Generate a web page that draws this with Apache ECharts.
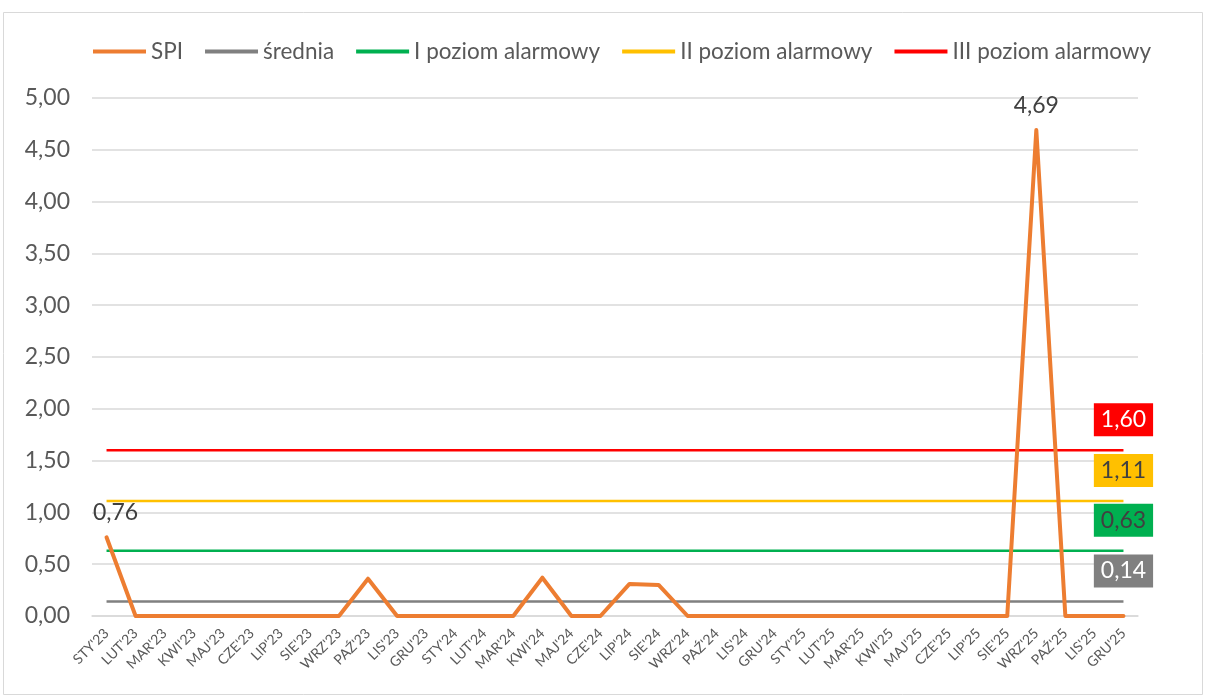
<!DOCTYPE html>
<html>
<head>
<meta charset="utf-8">
<script src="https://cdn.jsdelivr.net/npm/echarts@6/dist/echarts.min.js"></script>
<style>
  html, body { margin: 0; padding: 0; background: #fff; }
  #chart { width: 1206px; height: 698px; }
</style>
</head>
<body>
<div id="chart"></div>
<script>
const categories = [
  "STY'23","LUT'23","MAR'23","KWI'23","MAJ'23","CZE'23","LIP'23","SIE'23","WRZ'23","PAŹ'23","LIS'23","GRU'23",
  "STY'24","LUT'24","MAR'24","KWI'24","MAJ'24","CZE'24","LIP'24","SIE'24","WRZ'24","PAŹ'24","LIS'24","GRU'24",
  "STY'25","LUT'25","MAR'25","KWI'25","MAJ'25","CZE'25","LIP'25","SIE'25","WRZ'25","PAŹ'25","LIS'25","GRU'25"
];
const spiValues = [
  0.76, 0, 0, 0, 0, 0, 0, 0, 0, 0.36, 0, 0,
  0, 0, 0, 0.37, 0, 0, 0.31, 0.30, 0, 0, 0, 0,
  0, 0, 0, 0, 0, 0, 0, 0, 4.69, 0, 0, 0
];
const sredniaValue = 0.14;
const level1Value = 0.63;
const level2Value = 1.11;
const level3Value = 1.60;
const seriesNames = ["SPI", "średnia", "I poziom alarmowy", "II poziom alarmowy", "III poziom alarmowy"];
const yTicks = { min: 0, max: 5, interval: 0.5 };

const FONT = "Lato, 'Liberation Sans', sans-serif";
const TXT = '#595959';
const fmt = v => Number(v).toFixed(2).replace('.', ',');

const maxIdx = spiValues.indexOf(Math.max(...spiValues));
const spiData = spiValues.map((v, i) => (i === 0 || i === maxIdx)
  ? { value: v, label: { show: true, position: 'top', distance: 13, offset: [i === 0 ? 9 : 0, 0],
      formatter: p => fmt(p.value), color: '#404040', fontSize: 23, fontFamily: FONT } }
  : v);

function constLine(name, value, color, textColor) {
  const data = categories.map((c, i) => i === categories.length - 1
    ? { value: value, label: { show: true, position: 'top', distance: 14,
        formatter: p => fmt(p.value), backgroundColor: color, color: textColor,
        fontSize: 23, fontFamily: FONT, padding: [5, 7, 5, 7] } }
    : value);
  return {
    name: name, type: 'line', data: data, symbol: 'circle', symbolSize: 0.01,
    showSymbol: true, z: 2,
    lineStyle: { color: color, width: 2.5 }, itemStyle: { color: color },
    emphasis: { disabled: true }, animation: false
  };
}

const chart = echarts.init(document.getElementById('chart'));
chart.setOption({
  animation: false,
  backgroundColor: '#fff',
  graphic: [{
    type: 'rect', shape: { x: 3.5, y: 12.5, width: 1199, height: 682 },
    style: { fill: 'none', stroke: '#D9D9D9', lineWidth: 1 }, silent: true
  }],
  legend: {
    left: 88, top: 35, itemWidth: 53, itemHeight: 4, itemGap: 22, icon: 'rect',
    textStyle: { color: TXT, fontSize: 22.5, fontFamily: FONT },
    data: seriesNames
  },
  grid: { left: 92, right: 68, top: 98, bottom: 82, containLabel: false },
  xAxis: {
    type: 'category', data: categories, boundaryGap: true,
    axisLine: { show: true, lineStyle: { color: '#D9D9D9', width: 1.5 } },
    axisTick: { show: false },
    axisLabel: { rotate: 45, interval: 0, color: TXT, fontSize: 14, fontFamily: FONT, margin: 15 }
  },
  yAxis: {
    type: 'value', min: yTicks.min, max: yTicks.max, interval: yTicks.interval,
    axisLine: { show: false }, axisTick: { show: false },
    splitLine: { lineStyle: { color: '#D9D9D9', width: 1.5 } },
    axisLabel: { formatter: v => fmt(v), color: TXT, fontSize: 23, fontFamily: FONT, margin: 22 }
  },
  series: [
    {
      name: seriesNames[0], type: 'line', data: spiData, symbol: 'circle', symbolSize: 0.01,
      showSymbol: true, z: 3,
      lineStyle: { color: '#ED7D31', width: 4, cap: 'round', join: 'round' },
      itemStyle: { color: '#ED7D31' }, emphasis: { disabled: true }
    },
    constLine(seriesNames[1], sredniaValue, '#808080', '#ffffff'),
    constLine(seriesNames[2], level1Value, '#00B050', '#404040'),
    constLine(seriesNames[3], level2Value, '#FFC000', '#404040'),
    constLine(seriesNames[4], level3Value, '#FF0000', '#ffffff')
  ]
});
</script>
</body>
</html>
